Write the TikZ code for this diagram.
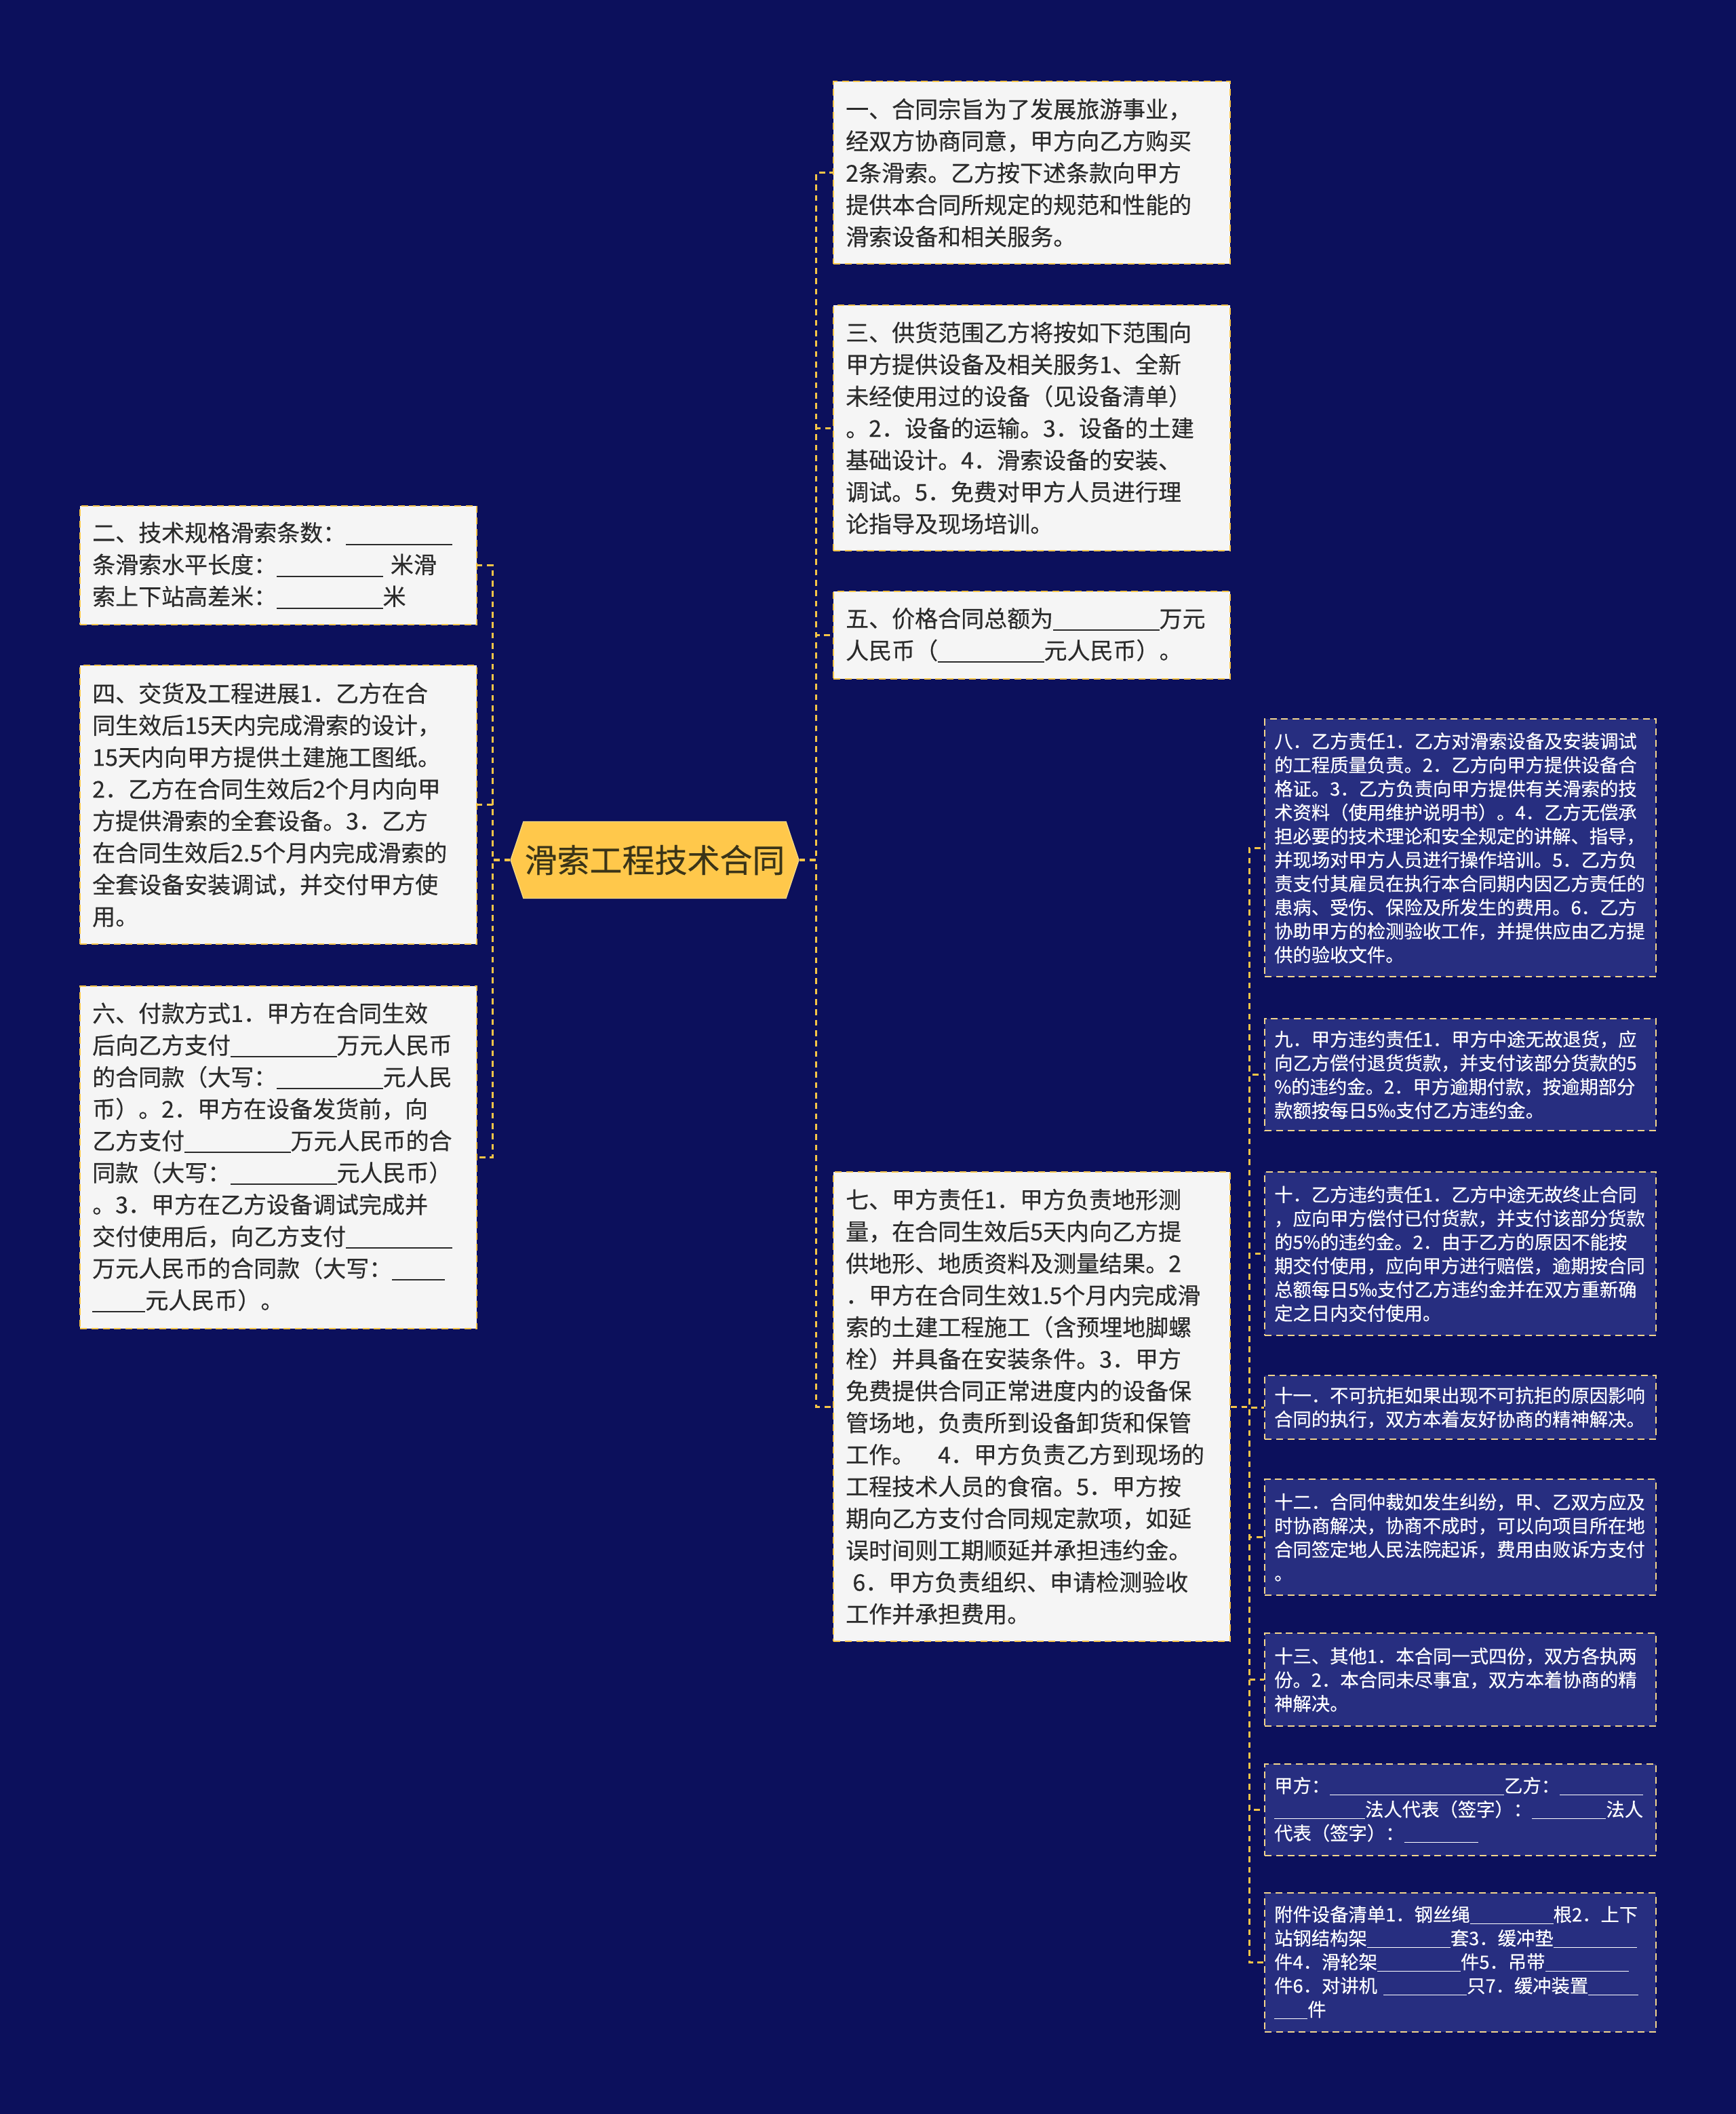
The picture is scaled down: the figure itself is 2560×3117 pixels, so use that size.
\documentclass[tikz,border=0pt]{standalone}
\usepackage{fontspec}
\newfontfamily\cjk[FakeBold=0.35]{Noto Sans CJK SC}
\usetikzlibrary{shapes.symbols}
\definecolor{bg}{HTML}{0C105C}
\definecolor{gold}{HTML}{F7C548}
\definecolor{lightfill}{HTML}{F5F5F5}
\definecolor{darktext}{HTML}{2B2B2B}
\definecolor{navybox}{HTML}{272E80}
\definecolor{paleborder}{HTML}{F3D58C}
\definecolor{hexfill}{HTML}{FFC84B}
\definecolor{hexborder}{HTML}{FBDA80}
\definecolor{hextext}{HTML}{3A3418}
\newcommand\bl[1]{\rule[-0.16em]{#1em}{0.055em}}
\tikzset{
  x=0.3pt, y=-0.3pt,
  conn/.style={draw=gold, line width=0.95pt, dash pattern=on 2.6pt off 2pt},
  boxbase/.style={rectangle, anchor=north west, align=left, inner ysep=0pt,
    line width=0.7pt, dash pattern=on 3pt off 2pt},
  cone/.style={boxbase, fill=lightfill, draw=gold, text=darktext,
    font=\cjk\fontsize{10.2pt}{14.1pt}\selectfont, inner xsep=5.4pt, text width=164.7pt},
  ctwo/.style={boxbase, fill=navybox, draw=paleborder, text=white,
    font=\cjk\fontsize{8.2pt}{10.5pt}\selectfont, inner xsep=4.2pt, text width=164.7pt},
  hexnode/.style={signal, signal to=west and east, signal pointer angle=143,
    fill=hexfill, draw=hexborder, line width=0.4pt, text=hextext,
    font=\cjk\fontsize{14.4pt}{16pt}\selectfont,
    minimum width=127.5pt, minimum height=33.9pt, inner sep=0pt}
}
\begin{document}
\begin{tikzpicture}
\useasboundingbox (0,0) rectangle (2560,3117);
\fill[bg] (0,0) rectangle (2560,3117);

\node[hexnode] (root) at (965.5,1268) {滑索工程技术合同};

% left column
\node[cone, minimum height=52.5pt] (b2) at (117,745) {二、技术规格滑索条数：\bl{4.6}\\
条滑索水平长度：\bl{4.6} 米滑\\
索上下站高差米：\bl{4.6}米};
\node[cone, minimum height=123.3pt] (b4) at (117,980) {四、交货及工程进展1．乙方在合\\
同生效后15天内完成滑索的设计，\\
15天内向甲方提供土建施工图纸。\\
2．乙方在合同生效后2个月内向甲\\
方提供滑索的全套设备。3．乙方\\
在合同生效后2.5个月内完成滑索的\\
全套设备安装调试，并交付甲方使\\
用。};
\node[cone, minimum height=151.5pt] (b6) at (117,1453) {六、付款方式1．甲方在合同生效\\
后向乙方支付\bl{4.6}万元人民币\\
的合同款（大写：\bl{4.6}元人民\\
币）。2．甲方在设备发货前，向\\
乙方支付\bl{4.6}万元人民币的合\\
同款（大写：\bl{4.6}元人民币）\\
。3．甲方在乙方设备调试完成并\\
交付使用后，向乙方支付\bl{4.6}\\
万元人民币的合同款（大写：\bl{2.3}\\
\bl{2.3}元人民币）。};

% right column 1
\node[cone, minimum height=80.7pt] (b1) at (1228,119) {一、合同宗旨为了发展旅游事业，\\
经双方协商同意，甲方向乙方购买\\
2条滑索。乙方按下述条款向甲方\\
提供本合同所规定的规范和性能的\\
滑索设备和相关服务。};
\node[cone, minimum height=108.6pt] (b3) at (1228,449) {三、供货范围乙方将按如下范围向\\
甲方提供设备及相关服务1、全新\\
未经使用过的设备（见设备清单）\\
。2．设备的运输。3．设备的土建\\
基础设计。4．滑索设备的安装、\\
调试。5．免费对甲方人员进行理\\
论指导及现场培训。};
\node[cone, minimum height=38.7pt] (b5) at (1228,871) {五、价格合同总额为\bl{4.6}万元\\
人民币（\bl{4.6}元人民币）。};
\node[cone, minimum height=207.6pt] (b7) at (1228,1727) {七、甲方责任1．甲方负责地形测\\
量，在合同生效后5天内向乙方提\\
供地形、地质资料及测量结果。2\\
．甲方在合同生效1.5个月内完成滑\\
索的土建工程施工（含预埋地脚螺\\
栓）并具备在安装条件。3．甲方\\
免费提供合同正常进度内的设备保\\
管场地，负责所到设备卸货和保管\\
工作。　4．甲方负责乙方到现场的\\
工程技术人员的食宿。5．甲方按\\
期向乙方支付合同规定款项，如延\\
误时间则工期顺延并承担违约金。\\
\hspace{0.3em}6．甲方负责组织、申请检测验收\\
工作并承担费用。};

% right column 2
\node[ctwo, minimum height=114pt] (b8) at (1864,1059) {八．乙方责任1．乙方对滑索设备及安装调试\\
的工程质量负责。2．乙方向甲方提供设备合\\
格证。3．乙方负责向甲方提供有关滑索的技\\
术资料（使用维护说明书）。4．乙方无偿承\\
担必要的技术理论和安全规定的讲解、指导，\\
并现场对甲方人员进行操作培训。5．乙方负\\
责支付其雇员在执行本合同期内因乙方责任的\\
患病、受伤、保险及所发生的费用。6．乙方\\
协助甲方的检测验收工作，并提供应由乙方提\\
供的验收文件。};
\node[ctwo, minimum height=49.5pt] (b9) at (1864,1501) {九．甲方违约责任1．甲方中途无故退货，应\\
向乙方偿付退货货款，并支付该部分货款的5\\
\%的违约金。2．甲方逾期付款，按逾期部分\\
款额按每日5‰支付乙方违约金。};
\node[ctwo, minimum height=72.3pt] (b10) at (1864,1727) {十．乙方违约责任1．乙方中途无故终止合同\\
，应向甲方偿付已付货款，并支付该部分货款\\
的5\%的违约金。2．由于乙方的原因不能按\\
期交付使用，应向甲方进行赔偿，逾期按合同\\
总额每日5‰支付乙方违约金并在双方重新确\\
定之日内交付使用。};
\node[ctwo, minimum height=28.2pt] (b11) at (1864,2027) {十一．不可抗拒如果出现不可抗拒的原因影响\\
合同的执行，双方本着友好协商的精神解决。};
\node[ctwo, minimum height=51.3pt] (b12) at (1864,2180) {十二．合同仲裁如发生纠纷，甲、乙双方应及\\
时协商解决，协商不成时，可以向项目所在地\\
合同签定地人民法院起诉，费用由败诉方支付\\
。};
\node[ctwo, minimum height=41.1pt] (b13) at (1864,2407) {十三、其他1．本合同一式四份，双方各执两\\
份。2．本合同未尽事宜，双方本着协商的精\\
神解决。};
\node[ctwo, minimum height=40.5pt] (b14) at (1864,2600) {甲方：\bl{9.4}乙方：\bl{4.5}\\
\bl{4.9}法人代表（签字）：\bl{4}法人\\
代表（签字）：\bl{4}};
\node[ctwo, minimum height=61.5pt] (b15) at (1864,2790) {附件设备清单1．钢丝绳\bl{4.5}根2．上下\\
站钢结构架\bl{4.5}套3．缓冲垫\bl{4.5}\\
件4．滑轮架\bl{4.5}件5．吊带\bl{4.5}\\
件6．对讲机 \bl{4.5}只7．缓冲装置\bl{2.7}\\
\bl{1.8}件};

% connectors
\foreach \c in {b2,b4,b6} \draw[conn] (root.west) -- ++(-26,0) |- (\c.east);
\foreach \c in {b1,b3,b5,b7} \draw[conn] (root.east) -- ++(25,0) |- (\c.west);
\foreach \c in {b8,b9,b10,b11,b12,b13,b14,b15} \draw[conn] (b7.east) -- ++(27,0) |- (\c.west);
\end{tikzpicture}
\end{document}
